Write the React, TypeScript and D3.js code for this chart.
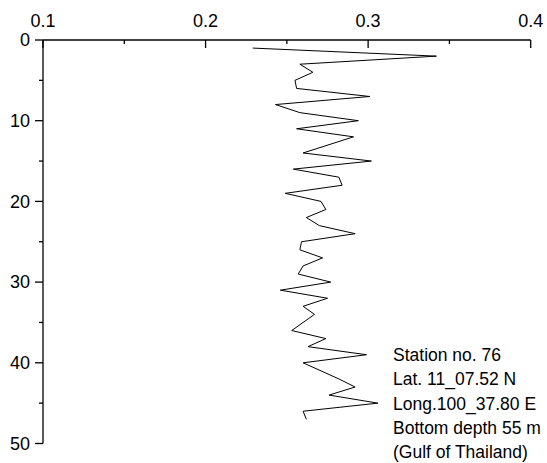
import React from "react";
import * as d3 from "d3";

const depths = [1,2,3,4,5,6,7,8,9,10,11,12,14,15,16,17,18,19,20,21,22,23,24,25,26,27,28,29,30,31,32,33,34,36,37,38,39,40,42,43,44,45,46,47];
const values = [0.229,0.342,0.258,0.266,0.255,0.256,0.301,0.243,0.258,0.294,0.256,0.291,0.260,0.302,0.254,0.282,0.284,0.249,0.271,0.274,0.262,0.270,0.292,0.259,0.258,0.272,0.260,0.257,0.277,0.246,0.275,0.260,0.267,0.253,0.274,0.263,0.299,0.260,0.282,0.292,0.276,0.306,0.260,0.262];
const xTicks = [0.1, 0.2, 0.3, 0.4];
const xMinor = [0.15, 0.25, 0.35];
const yTicks = [0, 10, 20, 30, 40, 50];
const yMinor = [5, 15, 25, 35, 45];
const notes = ["Station no. 76", "Lat. 11_07.52 N", "Long.100_37.80 E", "Bottom depth 55 m", "(Gulf of Thailand)"];

export default function App() {
  const W = 547, H = 463;
  const x = d3.scaleLinear().domain([0.1, 0.4]).range([43, 530.7]);
  const y = d3.scaleLinear().domain([0, 50]).range([40, 443.5]);
  const pts: [number, number][] = depths.map((d, i) => [values[i], d]);
  const line = d3.line<[number, number]>().x(p => x(p[0])).y(p => y(p[1]));
  const font = "'Liberation Sans', Arial, sans-serif";
  return (
    <svg width={W} height={H} style={{ position: "absolute", left: 0, top: 0, background: "#fff" }} fontFamily={font}>
      <rect width={W} height={H} fill="#fff" />
      <line x1={x(0.1)} x2={x(0.4)} y1={y(0)} y2={y(0)} stroke="#000" strokeWidth={1.3} />
      {xTicks.map(t => (
        <g key={"xt" + t}>
          <line x1={x(t)} x2={x(t)} y1={y(0)} y2={y(0) + 8} stroke="#000" strokeWidth={1.3} />
          <text x={x(t)} y={y(0) - 13} textAnchor="middle" fontSize={18} fill="#000">{d3.format(".1f")(t)}</text>
        </g>
      ))}
      {xMinor.map(t => (
        <line key={"xm" + t} x1={x(t)} x2={x(t)} y1={y(0)} y2={y(0) + 4} stroke="#000" strokeWidth={1.3} />
      ))}
      <line x1={x(0.1)} x2={x(0.1)} y1={y(0)} y2={y(50)} stroke="#000" strokeWidth={1.3} />
      {yTicks.map(t => (
        <g key={"yt" + t}>
          <line x1={x(0.1) - 8} x2={x(0.1)} y1={y(t)} y2={y(t)} stroke="#000" strokeWidth={1.3} />
          <text x={x(0.1) - 13} y={y(t)} dy="0.35em" textAnchor="end" fontSize={18} fill="#000">{t}</text>
        </g>
      ))}
      {yMinor.map(t => (
        <line key={"ym" + t} x1={x(0.1) - 4} x2={x(0.1)} y1={y(t)} y2={y(t)} stroke="#000" strokeWidth={1.3} />
      ))}
      <path d={line(pts) || ""} fill="none" stroke="#000" strokeWidth={1} />
      {notes.map((n, i) => (
        <text key={n} x={393} y={361 + i * 24.3} fontSize={17.5} fill="#000">{n}</text>
      ))}
    </svg>
  );
}
